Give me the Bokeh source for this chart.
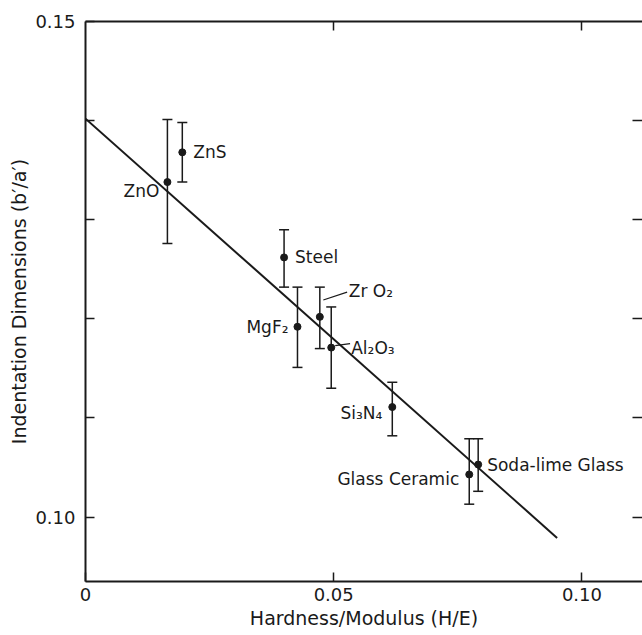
from bokeh.plotting import figure
from bokeh.models import (ColumnDataSource, Whisker, TeeHead, LinearAxis, FixedTicker,
                          CustomJSTickFormatter, Range1d)
from bokeh.embed import file_html
from bokeh.resources import INLINE

# ---- data ----
materials = ["ZnO", "ZnS", "Steel", "MgF\u2082", "Zr O\u2082", "Al\u2082O\u2083",
             "Si\u2083N\u2084", "Glass Ceramic", "Soda-lime Glass"]
h_over_e = [0.0165, 0.0195, 0.0400, 0.0427, 0.0472, 0.0495, 0.0618, 0.0773, 0.0791]
b_over_a = [0.1338, 0.1368, 0.1262, 0.1192, 0.1202, 0.1171, 0.1111, 0.1043, 0.1053]
err_upper = [0.1401, 0.1398, 0.1290, 0.1232, 0.1232, 0.1212, 0.1136, 0.1079, 0.1079]
err_lower = [0.1276, 0.1338, 0.1232, 0.1151, 0.1170, 0.1130, 0.1082, 0.1013, 0.1026]

fit_x = [0.0, 0.0950]
fit_y = [0.1402, 0.0979]

# leader lines for ZrO2 and Al2O3 labels
leader_x0 = [0.0479, 0.0503]
leader_y0 = [0.1219, 0.1173]
leader_x1 = [0.0527, 0.0533]
leader_y1 = [0.1227, 0.1175]

x_ticks = [0.0, 0.05, 0.10]
y_ticks = [0.10, 0.11, 0.12, 0.13, 0.14, 0.15]
y_labeled = ["0.10", "0.15"]

# label placement (styling, screen pixels)
label_align = ["right", "left", "left", "right", "left", "left", "right", "right", "left"]
label_dx = [-8, 11, 11, -9, 29, 20, -10, -10, 9]
label_dy = [9, 0, 0, 0, -26, 0, 6, 5, 0]

FONT = "DejaVu Sans"
INK = "#1a1a1a"

p = figure(width=642, height=635, output_backend="svg", toolbar_location=None,
           x_range=Range1d(0, 0.1122), y_range=Range1d(0.0935, 0.15),
           min_border_left=85, min_border_top=21, min_border_right=0, min_border_bottom=54)
p.outline_line_color = None
p.grid.visible = False
p.background_fill_color = "white"

# bottom axis
xa = p.xaxis[0]
xa.ticker = FixedTicker(ticks=x_ticks)
xa.formatter = CustomJSTickFormatter(code="return tick < 1e-9 ? '0' : tick.toFixed(2);")
xa.axis_label = "Hardness/Modulus (H/E)"

# left axis
ya = p.yaxis[0]
ya.ticker = FixedTicker(ticks=y_ticks)
ya.formatter = CustomJSTickFormatter(
    args=dict(lab=y_labeled),
    code="const s = tick.toFixed(2); return lab.includes(s) ? s : '';")
ya.axis_label = "Indentation Dimensions (b\u2032/a\u2032)"

for ax in (xa, ya):
    ax.axis_line_width = 2
    ax.axis_line_color = INK
    ax.major_tick_in = 9
    ax.major_tick_out = 0
    ax.major_tick_line_width = 1.5
    ax.major_tick_line_color = INK
    ax.minor_tick_line_color = None
    ax.major_label_text_font = FONT
    ax.major_label_text_font_size = "18px"
    ax.major_label_text_color = INK
    ax.axis_label_text_font = FONT
    ax.axis_label_text_font_size = "19px"
    ax.axis_label_text_font_style = "normal"
    ax.axis_label_text_color = INK
xa.major_label_standoff = 6
xa.axis_label_standoff = 3
ya.major_label_standoff = 10
ya.axis_label_standoff = 2

# top axis (ticks only)
top = LinearAxis(ticker=FixedTicker(ticks=x_ticks[1:]),
                 formatter=CustomJSTickFormatter(code="return '';"),
                 major_tick_in=9, major_tick_out=0, major_tick_line_width=1.5,
                 major_tick_line_color=INK, minor_tick_line_color=None,
                 axis_line_width=2, axis_line_color=INK,
                 major_label_text_font_size="0px", major_label_standoff=0)
p.add_layout(top, "above")

# right axis (ticks only, edge cropped in the reference)
right = LinearAxis(ticker=FixedTicker(ticks=y_ticks[:-1]),
                   formatter=CustomJSTickFormatter(code="return '';"),
                   major_tick_in=10, major_tick_out=0, major_tick_line_width=1.5,
                   major_tick_line_color=INK, minor_tick_line_color=None,
                   axis_line_color=None,
                   major_label_text_font_size="0px", major_label_standoff=0)
p.add_layout(right, "right")

# fitted line
p.line(fit_x, fit_y, line_color=INK, line_width=2)

# error bars
src = ColumnDataSource(dict(x=h_over_e, y=b_over_a, upper=err_upper, lower=err_lower,
                            name=materials, align=label_align, dx=label_dx, dy=label_dy))
wh = Whisker(source=src, base="x", upper="upper", lower="lower", dimension="height",
             line_color=INK, line_width=1.5,
             upper_head=TeeHead(size=10, line_width=1.5, line_color=INK),
             lower_head=TeeHead(size=10, line_width=1.5, line_color=INK))
p.add_layout(wh)

# points
p.scatter("x", "y", source=src, size=7, fill_color=INK, line_color=INK)

# leader lines
p.segment(leader_x0, leader_y0, leader_x1, leader_y1, line_color=INK, line_width=1.2)

# labels
p.text("x", "y", text="name", source=src, text_align="align", text_baseline="middle",
       x_offset="dx", y_offset="dy", text_font_size="17px", text_color=INK,
       text_font={"value": FONT})

open("out.html", "w").write(file_html(p, INLINE))
